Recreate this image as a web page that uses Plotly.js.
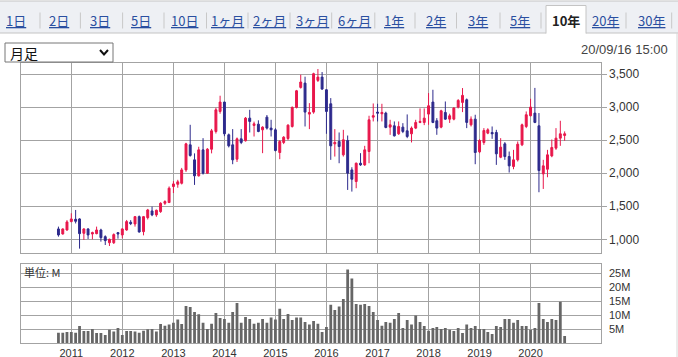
<!DOCTYPE html>
<html><head><meta charset="utf-8">
<script src="https://cdn.plot.ly/plotly-3.0.1.min.js"></script>
<style>html,body{margin:0;padding:0;background:#fff;}#chart{width:678px;height:357px;}</style>
</head><body><div id="chart"></div>
<script>
// ---- data ----
const months = [
 '2010-10','2010-11','2010-12',
 '2011-01','2011-02','2011-03','2011-04','2011-05','2011-06','2011-07','2011-08','2011-09','2011-10','2011-11','2011-12',
 '2012-01','2012-02','2012-03','2012-04','2012-05','2012-06','2012-07','2012-08','2012-09','2012-10','2012-11','2012-12',
 '2013-01','2013-02','2013-03','2013-04','2013-05','2013-06','2013-07','2013-08','2013-09','2013-10','2013-11','2013-12',
 '2014-01','2014-02','2014-03','2014-04','2014-05','2014-06','2014-07','2014-08','2014-09','2014-10','2014-11','2014-12',
 '2015-01','2015-02','2015-03','2015-04','2015-05','2015-06','2015-07','2015-08','2015-09','2015-10','2015-11','2015-12',
 '2016-01','2016-02','2016-03','2016-04','2016-05','2016-06','2016-07','2016-08','2016-09','2016-10','2016-11','2016-12',
 '2017-01','2017-02','2017-03','2017-04','2017-05','2017-06','2017-07','2017-08','2017-09','2017-10','2017-11','2017-12',
 '2018-01','2018-02','2018-03','2018-04','2018-05','2018-06','2018-07','2018-08','2018-09','2018-10','2018-11','2018-12',
 '2019-01','2019-02','2019-03','2019-04','2019-05','2019-06','2019-07','2019-08','2019-09','2019-10','2019-11','2019-12',
 '2020-01','2020-02','2020-03','2020-04','2020-05','2020-06','2020-07','2020-08','2020-09'
];
const open = [1157,1081,1141, 1268,1303,1308,1091,1157,1081,1086,1141,1040,949,949,1101,
 1066,1141,1258,1232,1343,1116,1328,1429,1369,1419,1545,1556,
 1798,1833,1848,2050,2429,2202,1960,2353,2000,2363,2631,2934,
 3076,2581,2429,2212,2520,2490,2833,2722,2742,2656,2848,2682,
 2656,2313,2465,2525,2707,2995,3298,3363,2894,2924,3404,3454,
 3262,3050,2444,2480,2278,2495,2050,1874,2151,2126,2328,2848,
 2924,2899,2909,2697,2717,2596,2697,2641,2596,2682,2768,2768,
 2894,3076,2793,2697,2919,2818,2818,3000,3071,3111,2732,2818,
 2323,2465,2606,2616,2616,2242,2444,2252,2101,2202,2429,2707,
 2869,2909,2717,1990,2060,2262,2379,2530,2571];
const high = [1192,1165,1290, 1394,1444,1318,1167,1167,1116,1192,1160,1060,1010,1090,1111,
 1167,1293,1290,1353,1360,1353,1460,1495,1450,1560,1590,1800,
 1880,1900,2080,2460,2732,2300,2400,2530,2380,2670,2990,3172,
 3080,2600,2667,2540,2667,2850,2959,2780,2800,2710,2880,2808,
 2680,2500,2560,2740,3010,3260,3490,3460,3060,3520,3576,3530,
 3270,3136,2667,2616,2656,2570,2090,2161,2303,2414,2869,3055,
 3050,3050,2930,2808,2783,2783,2757,2889,2707,2808,2980,2980,
 3212,3262,2833,2960,3085,2900,3000,3120,3288,3130,2859,2884,
 2515,2682,2680,2707,2656,2530,2470,2328,2353,2480,2750,2934,
 3126,3290,2910,2202,2353,2510,2682,2793,2632];
const low = [1040,1071,1130, 1258,1240,859,990,1005,1000,1076,965,914,899,929,1010,
 1015,1130,1215,1192,1101,1060,1300,1350,1340,1400,1520,1550,
 1700,1780,1830,2020,2250,1823,1950,1980,1990,2300,2600,2900,
 2560,2390,2136,2170,2440,2480,2616,2555,2620,2303,2660,2555,
 2330,2212,2440,2500,2690,2980,3280,2707,2667,2900,3380,3260,
 2596,2202,2252,2151,2252,1747,1722,1773,2111,2111,2151,2783,
 2783,2783,2680,2580,2555,2580,2606,2530,2465,2667,2757,2727,
 2732,2757,2581,2680,2808,2760,2800,2980,2924,2682,2707,2136,
 2303,2429,2590,2520,2126,2227,2202,2010,2060,2177,2410,2682,
 2860,2757,1712,1762,1939,2242,2353,2414,2490];
const close = [1066,1157,1263, 1308,1273,1086,1157,1066,1101,1141,1025,980,1000,1071,1081,
 1157,1268,1237,1343,1111,1343,1444,1369,1439,1545,1571,1773,
 1838,1869,2050,2444,2268,1960,2353,2000,2363,2641,2959,3076,
 2596,2414,2202,2520,2465,2833,2783,2747,2631,2697,2682,2656,
 2343,2480,2545,2727,2995,3247,3379,2924,2919,3505,3454,3273,
 2934,2414,2465,2404,2505,2000,1909,2151,2126,2353,2808,2869,
 2909,2919,2692,2732,2565,2707,2631,2555,2682,2768,2783,2833,
 3020,2768,2682,2944,2818,2869,2985,3101,3177,2768,2818,2313,
 2495,2646,2656,2596,2293,2394,2252,2111,2202,2439,2732,2884,
 3000,2768,2040,2111,2278,2389,2530,2596,2596];
const volume = [3.8,3.8,4.0, 4.0,3.8,6.2,4.4,4.4,5.1,3.7,3.7,3.0,4.8,4.2,5.5,
 3.0,4.4,4.4,4.2,3.8,4.5,5.0,5.1,4.2,6.9,6.3,6.7,
 7.3,8.5,6.9,13.3,13.0,11.2,10.4,7.3,5.1,7.0,10.8,9.0,
 8.7,7.3,11.2,14.4,7.3,9.4,8.7,7.0,7.3,8.7,7.3,9.2,
 8.5,12.3,8.7,10.5,8.3,9.2,9.2,7.6,6.7,8.0,7.0,4.0,
 5.8,13.8,11.9,13.1,15.8,26.3,23.1,14.0,13.8,14.0,13.3,11.2,
 8.3,6.3,7.6,7.3,8.7,10.8,5.5,8.3,6.7,9.9,7.6,6.2,
 4.5,5.5,5.8,5.1,5.5,4.8,4.4,5.5,3.7,6.7,5.5,6.2,
 5.1,5.1,4.0,3.3,6.2,5.8,8.7,8.7,7.3,8.3,6.2,6.2,
 4.8,5.5,14.4,8.7,7.6,8.7,8.3,14.8,2.6];
const yearTicks = ['2011-01-01','2012-01-01','2013-01-01','2014-01-01','2015-01-01','2016-01-01','2017-01-01','2018-01-01','2019-01-01','2020-01-01'];
const yearLabels = ['2011','2012','2013','2014','2015','2016','2017','2018','2019','2020'];
const priceTicks = [1000,1500,2000,2500,3000,3500];
const volTicks = [5,10,15,20,25];
const volLabels = ['5M','10M','15M','20M','25M'];
const tabLabels = ['1日','2日','3日','5日','10日','1ヶ月','2ヶ月','3ヶ月','6ヶ月','1年','2年','3年','5年','10年','20年','30年'];
const selectedTab = '10年';
const periodLabel = '月足';
const stampLabel = '20/09/16 15:00';
const unitLabel = '単位: M';

// ---- layout constants (pixels) ----
const W = 678, H = 357;
const X0 = 21, X1 = 600.7, PT = 63, PB = 253, VT = 264.3, VB = 343.3;
const px = x => x / W, py = y => 1 - y / H;
const tabCenters = [16,58.5,100,141,184.5,227,269.5,312,354,394,436,478,519.5,566,605,651];
const tabSeps = [40,80.4,122.6,164,206.5,248,290,331.7,374.8,415,456.5,500,541,626,671.7];
const GRID = '#a3a3a3';
const UP = '#e8174b', DOWN = '#2d2a8c';

const traces = [
 {type:'candlestick', x:months, open:open, high:high, low:low, close:close, xaxis:'x', yaxis:'y',
  increasing:{line:{color:UP,width:1}, fillcolor:UP},
  decreasing:{line:{color:DOWN,width:1}, fillcolor:DOWN},
  whiskerwidth:0, hoverinfo:'skip'},
 {type:'bar', x:months, y:volume, xaxis:'x2', yaxis:'y2', marker:{color:'#666666', line:{width:0}},
  width:20*86400000, hoverinfo:'skip'}
];

const shapes = [];
const ann = [];
// tab bar
shapes.push({type:'rect', xref:'paper', yref:'paper', x0:0, x1:1, y0:py(33), y1:py(1), fillcolor:'#eef0f4', line:{width:0}, layer:'above'});
shapes.push({type:'line', xref:'paper', yref:'paper', x0:0, x1:1, y0:py(1), y1:py(1), line:{color:'#c4c4c4', width:1}});
shapes.push({type:'line', xref:'paper', yref:'paper', x0:0, x1:px(546), y0:py(33), y1:py(33), line:{color:'#c4c4c4', width:1}});
shapes.push({type:'line', xref:'paper', yref:'paper', x0:px(586), x1:1, y0:py(33), y1:py(33), line:{color:'#c4c4c4', width:1}});
shapes.push({type:'path', xref:'paper', yref:'paper', path:`M ${px(546)},${py(33.5)} L ${px(546)},${py(5.5)} L ${px(586)},${py(5.5)} L ${px(586)},${py(33.5)}`, fillcolor:'#ffffff', line:{color:'#c4c4c4', width:1}});
tabSeps.forEach(s => shapes.push({type:'line', xref:'paper', yref:'paper', x0:px(s), x1:px(s), y0:py(12.5), y1:py(28.5), line:{color:'#c8c8c8', width:1}}));
// right container edge
shapes.push({type:'line', xref:'paper', yref:'paper', x0:px(677), x1:px(677), y0:py(33), y1:0, line:{color:'#d6d6d6', width:1}});
// dropdown
shapes.push({type:'rect', xref:'paper', yref:'paper', x0:px(5), x1:px(113), y0:py(62), y1:py(43), fillcolor:'#ffffff', line:{color:'#767676', width:1}});
shapes.push({type:'path', xref:'paper', yref:'paper', path:`M ${px(100)},${py(50)} L ${px(104)},${py(54.5)} L ${px(108)},${py(50)}`, line:{color:'#111', width:2}});

tabLabels.forEach((t,i) => {
  const sel = t === selectedTab;
  ann.push({xref:'paper', yref:'paper', x:px(tabCenters[i]), y:py(20.5), xanchor:'center', yanchor:'middle', showarrow:false,
    text: sel ? '<b>'+t+'</b>' : '<span style="text-decoration:underline">'+t+'</span>',
    font:{family:'Noto Sans CJK JP, sans-serif', size:13, color: sel ? '#222' : '#2a4fa0'}});
});
ann.push({xref:'paper', yref:'paper', x:px(8), y:py(52.5), xanchor:'left', yanchor:'middle', showarrow:false,
  text:periodLabel, font:{family:'Noto Sans CJK JP, sans-serif', size:14, color:'#111'}});
ann.push({xref:'paper', yref:'paper', x:px(670), y:py(50), xanchor:'right', yanchor:'middle', showarrow:false,
  text:stampLabel, font:{family:'Liberation Sans, Arial, sans-serif', size:13, color:'#444'}});
ann.push({xref:'paper', yref:'paper', x:px(22), y:py(271.5), xanchor:'left', yanchor:'middle', showarrow:false,
  text:unitLabel, font:{family:'Noto Sans CJK JP, sans-serif', size:11, color:'#333'}});

const xRange = ['2010-01-06','2021-05-17'];
const layout = {
  width:W, height:H, margin:{l:0,r:0,t:0,b:0,pad:0}, paper_bgcolor:'#ffffff', plot_bgcolor:'#ffffff', showlegend:false,
  font:{family:'Liberation Sans, Arial, sans-serif', color:'#333', size:11},
  hovermode:false, dragmode:false,
  xaxis:{domain:[px(X0),px(X1)], anchor:'y', type:'date', range:xRange, tickvals:yearTicks, showticklabels:false,
    showgrid:true, gridcolor:GRID, gridwidth:1, showline:true, linecolor:GRID, linewidth:1, mirror:true, ticks:'', zeroline:false,
    rangeslider:{visible:false}, fixedrange:true},
  yaxis:{domain:[py(PB),py(PT)], anchor:'x', side:'right', range:[793,3667], tickvals:priceTicks, tickformat:',d',
    ticks:'outside', ticklen:5, tickcolor:GRID, tickwidth:1, showgrid:true, gridcolor:GRID, gridwidth:1,
    showline:true, linecolor:GRID, linewidth:1, mirror:true, zeroline:false, tickfont:{size:12, color:'#333'}, fixedrange:true},
  xaxis2:{domain:[px(X0),px(X1)], anchor:'y2', type:'date', range:xRange, tickvals:yearTicks, ticktext:yearLabels,
    showgrid:true, gridcolor:GRID, gridwidth:1, showline:true, linecolor:GRID, linewidth:1, mirror:true, ticks:'', zeroline:false,
    ticklabelstandoff:-1, tickfont:{size:11, color:'#333'}, fixedrange:true},
  yaxis2:{domain:[py(VB),py(VT)], anchor:'x2', side:'right', range:[0,28.2], tickvals:volTicks, ticktext:volLabels,
    ticks:'outside', ticklen:5, tickcolor:'rgba(0,0,0,0)', showgrid:true, gridcolor:GRID, gridwidth:1,
    showline:true, linecolor:GRID, linewidth:1, mirror:true, zeroline:false, tickfont:{size:11, color:'#333'}, fixedrange:true},
  bargap:0.3,
  shapes:shapes, annotations:ann
};
Plotly.newPlot('chart', traces, layout, {staticPlot:true, displayModeBar:false});
</script></body></html>
